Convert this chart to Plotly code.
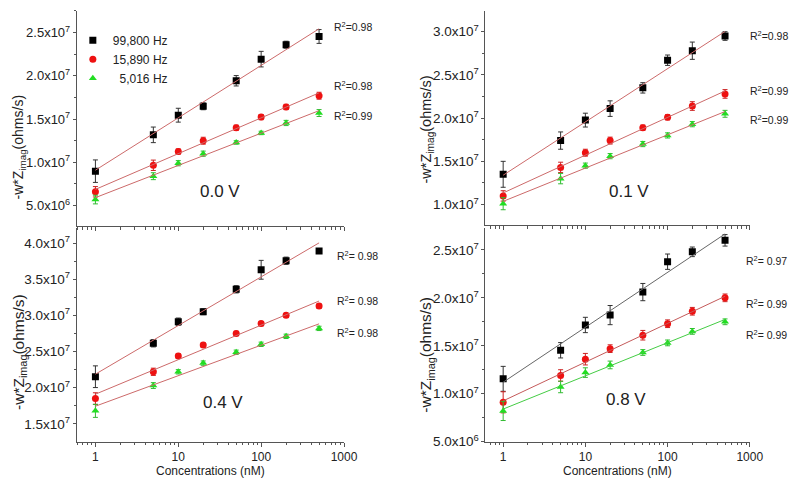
import numpy as np
import plotly.graph_objects as go

# ---------------- data ----------------
conc = [1, 5, 10, 20, 50, 100, 200, 500]
freq_labels = ["99,800 Hz", "15,890 Hz", "  5,016 Hz"]
voltage_labels = ["0.0 V", "0.1 V", "0.4 V", "0.8 V"]

# 0.0 V
v00_hi = [8.98e6, 1.318e7, 1.545e7, 1.648e7, 1.943e7, 2.193e7, 2.36e7, 2.455e7]
v00_mid = [6.6e6, 9.66e6, 1.125e7, 1.25e7, 1.40e7, 1.523e7, 1.64e7, 1.77e7]
v00_lo = [5.7e6, 8.4e6, 9.9e6, 1.10e7, 1.23e7, 1.34e7, 1.455e7, 1.57e7]
e00_hi = [1.3e6, 0.9e6, 0.8e6, 0.4e6, 0.6e6, 0.9e6, 0.4e6, 0.8e6]
e00_mid = [0.6e6, 0.6e6, 0.3e6, 0.4e6, 0.3e6, 0.3e6, 0.3e6, 0.4e6]
e00_lo = [0.5e6, 0.4e6, 0.3e6, 0.3e6, 0.2e6, 0.2e6, 0.3e6, 0.4e6]
r2_00 = ["0.98", "0.98", "0.99"]

# 0.1 V
v01_hi = [1.35e7, 1.74e7, 1.977e7, 2.11e7, 2.35e7, 2.67e7, 2.78e7, 2.95e7]
v01_mid = [1.10e7, 1.43e7, 1.60e7, 1.74e7, 1.89e7, 2.01e7, 2.14e7, 2.28e7]
v01_lo = [1.01e7, 1.30e7, 1.45e7, 1.56e7, 1.70e7, 1.80e7, 1.93e7, 2.05e7]
e01_hi = [1.5e6, 1.0e6, 0.8e6, 0.9e6, 0.6e6, 0.6e6, 1.0e6, 0.5e6]
e01_mid = [0.6e6, 0.6e6, 0.4e6, 0.4e6, 0.3e6, 0.3e6, 0.5e6, 0.5e6]
e01_lo = [0.7e6, 0.6e6, 0.3e6, 0.3e6, 0.3e6, 0.3e6, 0.3e6, 0.4e6]
r2_01 = ["0.98", "0.99", "0.99"]

# 0.4 V
v04_hi = [2.152e7, 2.614e7, 2.913e7, 3.05e7, 3.36e7, 3.63e7, 3.755e7, 3.89e7]
v04_mid = [1.85e7, 2.22e7, 2.44e7, 2.59e7, 2.75e7, 2.886e7, 3.00e7, 3.13e7]
v04_lo = [1.68e7, 2.03e7, 2.22e7, 2.34e7, 2.49e7, 2.60e7, 2.71e7, 2.82e7]
e04_hi = [1.5e6, 0.5e6, 0.5e6, 0.4e6, 0.5e6, 1.3e6, 0.5e6, 0.3e6]
e04_mid = [0.8e6, 0.5e6, 0.3e6, 0.3e6, 0.3e6, 0.3e6, 0.3e6, 0.3e6]
e04_lo = [0.9e6, 0.4e6, 0.3e6, 0.3e6, 0.3e6, 0.3e6, 0.3e6, 0.3e6]
r2_04 = [" 0.98", " 0.98", " 0.98"]

# 0.8 V
v08_hi = [1.155e7, 1.453e7, 1.717e7, 1.82e7, 2.06e7, 2.377e7, 2.48e7, 2.60e7]
v08_mid = [9.1e6, 1.19e7, 1.36e7, 1.47e7, 1.61e7, 1.73e7, 1.86e7, 2.00e7]
v08_lo = [8.2e6, 1.07e7, 1.22e7, 1.30e7, 1.43e7, 1.53e7, 1.65e7, 1.75e7]
e08_hi = [1.3e6, 0.8e6, 0.8e6, 1.0e6, 0.9e6, 0.8e6, 0.5e6, 0.6e6]
e08_mid = [1.1e6, 0.6e6, 0.6e6, 0.4e6, 0.5e6, 0.4e6, 0.4e6, 0.4e6]
e08_lo = [1.0e6, 0.6e6, 0.5e6, 0.4e6, 0.3e6, 0.3e6, 0.3e6, 0.3e6]
r2_08 = [" 0.97", " 0.99", " 0.99"]

# tick labels
tl_vals = [5e6, 1.0e7, 1.5e7, 2.0e7, 2.5e7]
tr_vals = [1.0e7, 1.5e7, 2.0e7, 2.5e7, 3.0e7]
bl_vals = [1.5e7, 2.0e7, 2.5e7, 3.0e7, 3.5e7, 4.0e7]
br_vals = [5e6, 1.0e7, 1.5e7, 2.0e7, 2.5e7]
x_ticks = [1, 10, 100, 1000]


def sci(v):
    e = int(np.floor(np.log10(v)))
    return f"{v / 10**e:.1f}x10<sup>{e}</sup>"


# ---------------- styling ----------------
W, H = 800, 478
FONT = "Liberation Sans, Arial, sans-serif"
mk_colors = ["#000000", "#ee1111", "#22dd22"]
err_colors = ["#333333", "#cc2222", "#33bb33"]
symbols = ["square", "circle", "triangle-up"]

panels = [
    dict(vals=[v00_hi, v00_mid, v00_lo], errs=[e00_hi, e00_mid, e00_lo], r2=r2_00,
         xd=(70, 342), yd=(3, 222), xr=(-0.225, 3), yr=(2.61e6, 2.75e7), ticks=tl_vals,
         showx=False, fitc=["#cc6a6a"] * 3, tickfs=13, titlefs=14,
         title_pos=(11, 142), r2x=330, r2y=[19, 79, 109], vlab=(193, 187)),
    dict(vals=[v01_hi, v01_mid, v01_lo], errs=[e01_hi, e01_mid, e01_lo], r2=r2_01,
         xd=(486, 755), yd=(3, 221), xr=(-0.215, 3), yr=(7.6e6, 3.24e7), ticks=tr_vals,
         showx=False, fitc=["#cc6a6a"] * 3, tickfs=13.5, titlefs=14.5,
         title_pos=(426, 124), r2x=753, r2y=[28, 84, 113], vlab=(610, 187)),
    dict(vals=[v04_hi, v04_mid, v04_lo], errs=[e04_hi, e04_mid, e04_lo], r2=r2_04,
         xd=(70, 342), yd=(224, 441), xr=(-0.225, 3), yr=(1.255e7, 4.204e7), ticks=bl_vals,
         showx=True, fitc=["#cc6a6a"] * 3, tickfs=13.5, titlefs=15.5,
         title_pos=(11, 350), r2x=333, r2y=[252, 297, 330], vlab=(196, 401)),
    dict(vals=[v08_hi, v08_mid, v08_lo], errs=[e08_hi, e08_mid, e08_lo], r2=r2_08,
         xd=(486, 755), yd=(224, 441), xr=(-0.215, 3), yr=(5.0e6, 2.726e7), ticks=br_vals,
         showx=True, fitc=["#666666", "#c45a5a", "#44cc44"], tickfs=13.5, titlefs=15.5,
         title_pos=(426, 353), r2x=749, r2y=[257, 301, 332], vlab=(607, 398)),
]

minor_x = [0.6, 0.7, 0.8, 0.9] + [m * 10**d for d in range(0, 3) for m in range(2, 10)]

fig = go.Figure()
layout_axes = {}
annotations = []

for i, p in enumerate(panels):
    n = "" if i == 0 else str(i + 1)
    xa, ya = "x" + n, "y" + n
    for s in range(3):
        fig.add_trace(go.Scatter(
            x=conc, y=p["vals"][s], xaxis=xa, yaxis=ya, mode="markers",
            marker=dict(symbol=symbols[s], size=7, color=mk_colors[s], line=dict(width=0)),
            error_y=dict(type="data", array=p["errs"][s], color=err_colors[s],
                         thickness=1, width=2.5),
            name=freq_labels[s], showlegend=(i == 0), legendgroup=str(s)))
        # linear fit vs log10(concentration)
        coef = np.polyfit(np.log10(conc), p["vals"][s], 1)
        xf = np.array([conc[0], conc[-1]])
        yf = np.polyval(coef, np.log10(xf))
        fig.add_trace(go.Scatter(
            x=xf, y=yf, xaxis=xa, yaxis=ya, mode="lines",
            line=dict(color=p["fitc"][s], width=1), showlegend=False, hoverinfo="skip"))

    xd = [p["xd"][0] / W, p["xd"][1] / W]
    yd = [1 - p["yd"][1] / H, 1 - p["yd"][0] / H]
    layout_axes["xaxis" + n] = dict(
        domain=xd, type="log", range=list(p["xr"]), anchor=ya,
        tickvals=x_ticks, ticktext=[str(t) for t in x_ticks], showticklabels=p["showx"],
        showline=True, linecolor="#555555", linewidth=1, ticks="outside", ticklen=4,
        tickcolor="#555555", showgrid=False, zeroline=False,
        tickfont=dict(family=FONT, size=12, color="#222222"),
        minor=dict(tickvals=minor_x, ticks="outside", ticklen=2.5, tickcolor="#555555",
                   showgrid=False))
    layout_axes["yaxis" + n] = dict(
        domain=yd, range=list(p["yr"]), anchor=xa,
        tickvals=p["ticks"], ticktext=[sci(v) for v in p["ticks"]],
        showline=True, linecolor="#555555", linewidth=1, ticks="outside", ticklen=3,
        tickcolor="#555555", showgrid=False, zeroline=False,
        tickfont=dict(family=FONT, size=p["tickfs"], color="#222222"),
        minor=dict(tick0=0, dtick=2.5e6, ticks="outside", ticklen=2, tickcolor="#555555",
                   showgrid=False))

    # y axis title
    annotations.append(dict(
        text="-w*Z<sub>imag</sub>(ohms/s)", xref="paper", yref="paper",
        x=p["title_pos"][0] / W, y=1 - p["title_pos"][1] / H, textangle=-90,
        xanchor="center", yanchor="middle", showarrow=False,
        font=dict(family=FONT, size=p["titlefs"], color="#222222")))
    # R^2 labels
    for s in range(3):
        annotations.append(dict(
            text="R<sup>2</sup>=" + p["r2"][s], xref="paper", yref="paper",
            x=p["r2x"] / W, y=1 - p["r2y"][s] / H, xanchor="left", yanchor="middle",
            showarrow=False, font=dict(family=FONT, size=10.5, color="#222222")))
    # voltage label
    annotations.append(dict(
        text=voltage_labels[i], xref="paper", yref="paper",
        x=p["vlab"][0] / W, y=1 - p["vlab"][1] / H, xanchor="left", yanchor="middle",
        showarrow=False, font=dict(family=FONT, size=17, color="#222222")))
    # x axis title
    if p["showx"]:
        annotations.append(dict(
            text="Concentrations (nM)", xref="paper", yref="paper",
            x=(p["xd"][0] + p["xd"][1]) / 2 / W, y=1 - 471 / H,
            xanchor="center", yanchor="middle", showarrow=False,
            font=dict(family=FONT, size=12, color="#222222")))

fig.update_layout(
    width=W, height=H, margin=dict(l=0, r=0, t=0, b=0),
    paper_bgcolor="white", plot_bgcolor="white",
    font=dict(family=FONT, color="#222222"),
    showlegend=True,
    legend=dict(x=66 / W, y=1 - 18 / H, xanchor="left", yanchor="top",
                bgcolor="rgba(0,0,0,0)", font=dict(family=FONT, size=12, color="#222222"),
                tracegroupgap=0, itemwidth=30),
    annotations=annotations,
    **layout_axes,
)

fig.write_html("out.html")
